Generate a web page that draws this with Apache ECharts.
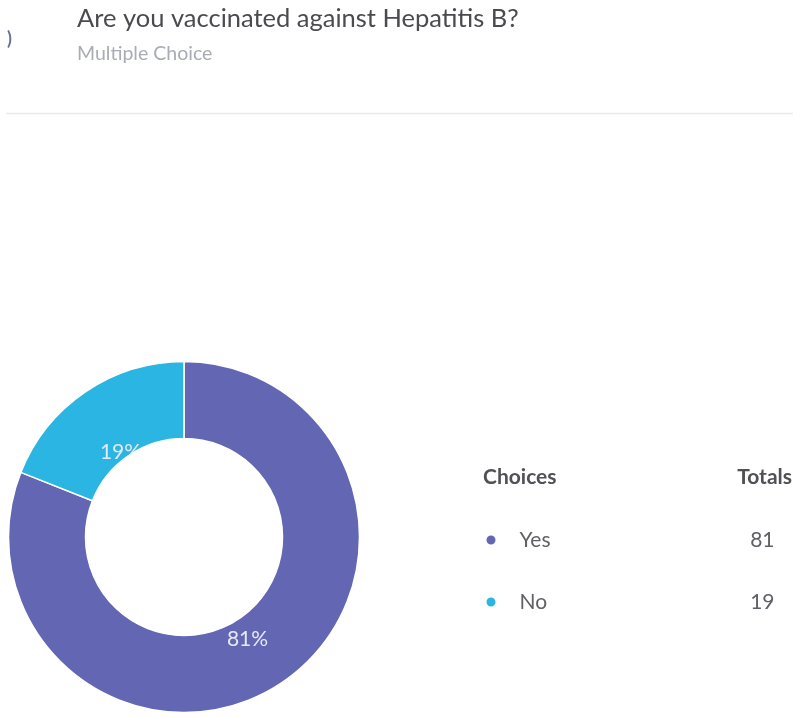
<!DOCTYPE html>
<html>
<head>
<meta charset="utf-8">
<script src="https://cdn.jsdelivr.net/npm/echarts@6/dist/echarts.min.js"></script>
<style>
  html, body { margin: 0; padding: 0; background: #ffffff; }
  #chart { width: 793px; height: 718px; }
</style>
</head>
<body>
<div id="chart"></div>
<script>
// Survey question results
const questionTitle = 'Are you vaccinated against Hepatitis B?';
const questionType = 'Multiple Choice';
const choices = ['Yes', 'No'];
const totals = [81, 19];
const choiceColors = ['#6367B3', '#2BB5E2'];
const headerChoices = 'Choices';
const headerTotals = 'Totals';

const FONT = 'Lato, "Open Sans", sans-serif';
const CENTER = [184, 537];
const INNER = 98.5;
const OUTER = 175.5;

const sliceData = choices.map((name, i) => ({
  name: name,
  value: totals[i],
  itemStyle: { color: choiceColors[i] }
}));

const chart = echarts.init(document.getElementById('chart'), null, { renderer: 'canvas' });

chart.setOption({
  backgroundColor: '#ffffff',
  animation: false,
  title: [
    {
      text: ')',
      left: 7, top: 30, padding: 0,
      textStyle: { fontFamily: FONT, fontSize: 18, fontWeight: 'bold', color: '#6d6f98' }
    },
    {
      text: questionTitle,
      left: 77, top: 6, padding: 0,
      textStyle: { fontFamily: FONT, fontSize: 25.5, fontWeight: 'normal', color: '#4a4a4f' }
    },
    {
      text: questionType,
      left: 77, top: 44, padding: 0,
      textStyle: { fontFamily: FONT, fontSize: 19.5, fontWeight: 'normal', color: '#a9abb5' }
    },
    {
      text: headerChoices,
      left: 483, top: 467, padding: 0,
      textStyle: { fontFamily: FONT, fontSize: 21, fontWeight: 'bold', color: '#505055' }
    },
    {
      text: headerTotals,
      right: 1, top: 467, padding: 0,
      textStyle: { fontFamily: FONT, fontSize: 21, fontWeight: 'bold', color: '#505055' }
    }
  ],
  graphic: [
    {
      type: 'line',
      shape: { x1: 6, y1: 113.5, x2: 793, y2: 113.5 },
      style: { stroke: '#e9e9ec', lineWidth: 1.5 },
      silent: true
    }
  ],
  legend: {
    orient: 'vertical',
    left: 484.5,
    top: 528,
    padding: 0,
    icon: 'circle',
    itemWidth: 11,
    itemHeight: 11,
    itemGap: 38,
    selectedMode: false,
    data: choices.map((name, i) => ({ name: name, itemStyle: { color: choiceColors[i] } })),
    formatter: function (name) {
      const v = totals[choices.indexOf(name)];
      return '{s| }{n|' + name + '}{v|' + v + '}';
    },
    textStyle: {
      fontFamily: FONT,
      fontSize: 21,
      color: '#606066',
      lineHeight: 24,
      rich: {
        s: { width: 18, lineHeight: 24 },
        n: { fontFamily: FONT, fontSize: 21, color: '#606066', width: 225, lineHeight: 24 },
        v: { fontFamily: FONT, fontSize: 21, color: '#606066', width: 30, align: 'right', lineHeight: 24 }
      }
    }
  },
  series: [
    {
      // donut ring
      type: 'pie',
      z: 1,
      center: CENTER,
      radius: [INNER, OUTER],
      startAngle: 90,
      clockwise: true,
      silent: true,
      emphasis: { disabled: true },
      label: { show: false },
      labelLine: { show: false },
      itemStyle: { borderColor: '#ffffff', borderWidth: 1.5 },
      data: sliceData
    },
    {
      // percentage labels, sitting just past the inner edge of the ring;
      // the empty first line drops each label a little below its anchor
      type: 'pie',
      z: 2,
      center: CENTER,
      radius: [0, 220],
      startAngle: 90,
      clockwise: true,
      silent: true,
      emphasis: { disabled: true },
      labelLine: { show: false },
      itemStyle: { color: 'rgba(0,0,0,0)' },
      label: {
        show: true,
        position: 'inside',
        fontFamily: FONT,
        fontSize: 21,
        lineHeight: 17,
        color: '#e6e8f6',
        formatter: function (p) { return '\n' + Math.round(p.percent) + '%'; }
      },
      data: choices.map((name, i) => ({ name: name, value: totals[i] }))
    },
    {
      // centre hole, drawn over the labels
      type: 'pie',
      z: 3,
      center: CENTER,
      radius: [0, INNER],
      silent: true,
      emphasis: { disabled: true },
      label: { show: false },
      labelLine: { show: false },
      itemStyle: { color: '#ffffff' },
      data: [{ name: 'hole', value: 1 }]
    }
  ]
});
</script>
</body>
</html>
